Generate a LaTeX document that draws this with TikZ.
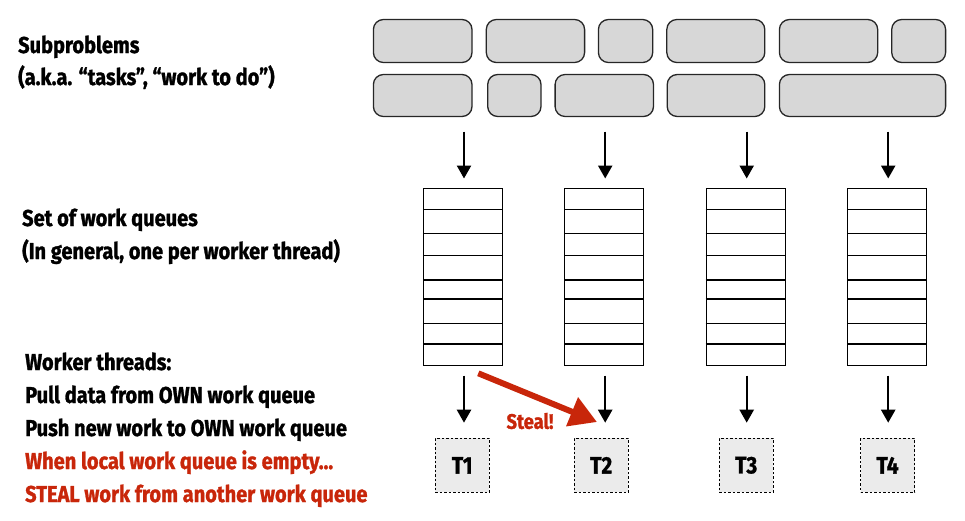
\documentclass[tikz,border=0pt]{standalone}
\usepackage{fontspec}
\setmainfont{Fira Sans}[FakeStretch=0.87,BoldFeatures={FakeBold=1.2}]
\usetikzlibrary{arrows.meta}
\definecolor{stealred}{RGB}{200,38,10}
\definecolor{subgray}{RGB}{215,215,215}
\definecolor{tgray}{RGB}{235,235,235}
\begin{document}
\begin{tikzpicture}[x=1pt,y=-1pt,
  lbl/.style={anchor=base west,inner sep=0pt,font=\fontsize{23}{28}\selectfont\bfseries},
  subbox/.style={draw=black!85,line width=1.3pt,fill=subgray,rounded corners=10pt},
  queue/.style={draw=black,line width=1.2pt,minimum width=79pt,minimum height=177pt,inner sep=0pt},
  qline/.style={line width=1.2pt},
  thread/.style={draw=black,dashed,dash pattern=on 2.5pt off 2pt,line width=1.1pt,fill=tgray,minimum width=54pt,minimum height=54pt,inner sep=0pt,font=\fontsize{24}{28}\selectfont\bfseries},
  darr/.style={line width=2.4pt,-{Triangle[width=14pt,length=13pt]}},
  stealarr/.style={line width=6pt,draw=stealred,-{Triangle[width=30pt,length=27pt]}}
]
\useasboundingbox (0,0) rectangle (965,520);
% left labels
\node[lbl] (l1) at (18,53) {Subproblems};
\node[lbl] (l2) at (18,85) {(a.k.a. “tasks”, “work to do”)};
\node[lbl] (l3) at (22,226) {Set of work queues};
\node[lbl] (l4) at (22,259) {(In general, one per worker thread)};
\node[lbl] (l5) at (25,370) {Worker threads:};
\node[lbl] (l6) at (25,403) {Pull data from OWN work queue};
\node[lbl] (l7) at (25,436) {Push new work to OWN work queue};
\node[lbl,text=stealred] (l8) at (25,469) {When local work queue is empty...};
\node[lbl,text=stealred] (l9) at (25,502) {STEAL work from another work queue};
% subproblems
\draw[subbox] (373.4,19.5) rectangle (472,62.5);
\draw[subbox] (486.3,19.5) rectangle (584.6,62.5);
\draw[subbox] (598.4,19.5) rectangle (652.7,62.5);
\draw[subbox] (666.8,19.5) rectangle (764.8,62.5);
\draw[subbox] (779.4,19.5) rectangle (877.7,62.5);
\draw[subbox] (891.7,19.5) rectangle (945.6,62.5);
\draw[subbox] (373.4,74.5) rectangle (472,116.5);
\draw[subbox] (487.7,74.5) rectangle (541,116.5);
\draw[subbox] (555.1,74.5) rectangle (653.5,116.5);
\draw[subbox] (667.2,74.5) rectangle (764.8,116.5);
\draw[subbox] (779.4,74.5) rectangle (945.6,116.5);
% queues, arrows, threads
\foreach \i/\x/\tx in {1/463/462.2,2/604.2/601.2,3/745.7/746.2,4/887.2/887.5}{
  \node[queue] (q\i) at (\x,276.6) {};
  \foreach \yy in {209.3,233.7,255.7,280,299,323.3,344}{
    \draw[qline] (q\i.west |- 0,\yy) -- (q\i.east |- 0,\yy);
  }
  \coordinate (a\i) at (\x+1,131.5);
  \coordinate (b\i) at (\x+1,178.5);
  \draw[darr] (a\i) -- (b\i);
  \node[thread] (t\i) at (\tx,465.3) {T\i};
  \coordinate (c\i) at (\x+1,375.5);
  \coordinate (d\i) at (\x+1,422.7);
  \draw[darr] (c\i) -- (d\i);
}
% steal
\coordinate (st0) at (478.3,373.3);
\coordinate (st1) at (597,422);
\draw[stealarr] (st0) -- (st1);
\node[inner sep=0pt,text=stealred,font=\fontsize{21}{24}\selectfont\bfseries] (steal) at (530,421) {Steal!};
\end{tikzpicture}
\end{document}
